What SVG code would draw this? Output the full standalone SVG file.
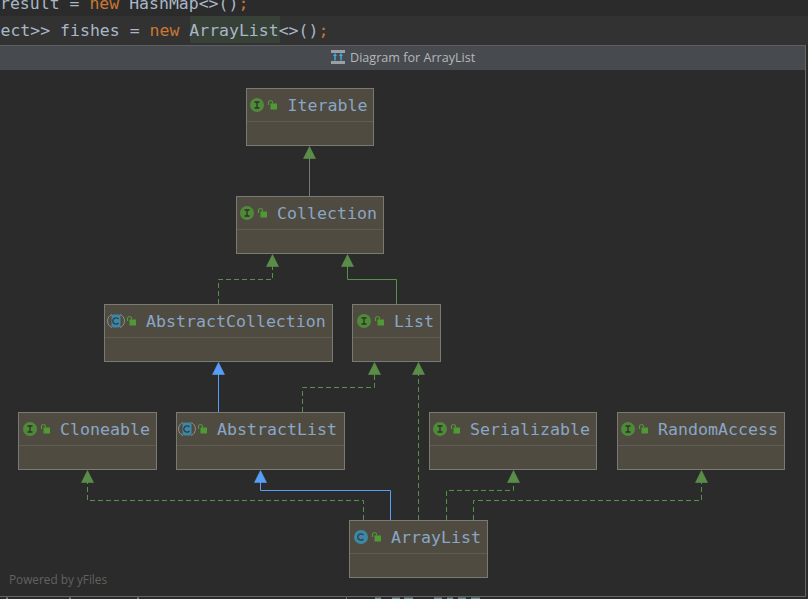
<svg xmlns="http://www.w3.org/2000/svg" width="808" height="599" viewBox="0 0 808 599">
<style>
.code{font:16.5px "DejaVu Sans Mono","Liberation Mono",monospace}
.name{font:16.6px "DejaVu Sans Mono","Liberation Mono",monospace;fill:#8aa6c6}
.box{fill:#4f4b41;stroke:#7a7a74;stroke-width:1}
.div{stroke:#5f5c53;stroke-width:1}
.lk{fill:#4f9a35}.lks{fill:none;stroke:#4f9a35;stroke-width:1.200}
.ib{fill:#4f8a3a}.cb{fill:#3e87a5}
.dash{fill:none;stroke:#55924a;stroke-width:1;stroke-dasharray:5 3}
.sol{fill:none;stroke:#55924a;stroke-width:1}
.blue{fill:none;stroke:#589df6;stroke-width:1}
.hg{fill:#5a8e48;stroke:#5a8e48;stroke-width:.6;stroke-linejoin:round}
.hb{fill:#589df6;stroke:#589df6;stroke-width:.6;stroke-linejoin:round}
.frag{fill:#6f8f98}
</style>
<defs>
<g id="lock"><rect class="lk" x="2.500" y="1.500" width="6.500" height="6"/><path class="lks" d="M0.500 3v-2.500a2 2 0 0 1 4 0v1"/></g>
<g id="ii"><circle class="ib" cx="0" cy="0" r="7"/><path d="M-2.500-3h5M-2.500 3h5M0-3v6" stroke="#2c3325" stroke-width="1.300" fill="none"/></g>
<g id="cc"><circle class="cb" cx="0" cy="0" r="7"/><path d="M2.500-2a3.200 3.200 0 1 0 0 4" stroke="#2c3c44" stroke-width="1.300" fill="none"/></g>
<g id="ac"><path d="M-4-6.500a7 7 0 0 0 0 13M4-6.500a7 7 0 0 1 0 13" fill="none" stroke="#8f8f88" stroke-width="1"/><rect class="cb" x="-4.500" y="-6.500" width="9" height="13" rx="2"/><path d="M2.500-2a3.200 3.200 0 1 0 0 4" stroke="#2c3c44" stroke-width="1.300" fill="none"/></g>
</defs>
<rect width="808" height="599" fill="#2b2b2b"/>
<rect x="0" y="16" width="808" height="29" fill="#323232"/>
<rect x="190" y="16" width="90" height="27" fill="#374137"/>
<text class="code" x="0" y="9" fill="#a9b7c6">result = <tspan fill="#cc7832">new</tspan> HashMap&lt;&gt;()<tspan fill="#cc7832">;</tspan></text>
<text class="code" x="0.500" y="36" fill="#a9b7c6">ect&gt;&gt; fishes = <tspan fill="#cc7832">new</tspan> ArrayList&lt;&gt;()<tspan fill="#cc7832">;</tspan></text>
<rect x="0" y="45" width="805" height="25" fill="#474a4e"/>
<rect x="0" y="45" width="805" height="1" fill="#5e6060"/>
<g><rect x="331" y="50" width="14" height="3" fill="#9aa0a4"/><rect x="331" y="61" width="14" height="3" fill="#9aa0a4"/><path d="M335 60.500v-6M341 60.500v-6" stroke="#3fa9d8" stroke-width="1.500"/><path d="M333 56l2-3 2 3zM339 56l2-3 2 3z" fill="#3fa9d8"/></g>
<text x="350" y="62" font-family="'Open Sans','Noto Sans',sans-serif" font-size="12.600" fill="#b4b8ba">Diagram for ArrayList</text>
<path d="M805.500 45V596.500H0" fill="none" stroke="#666"/>
<path class="frag" d="M6 597.500h2v1.500h-2zM69 597.500h2v1.500h-2zM137 597.500h2v1.500h-2zM346 597.500h1v1.500h-1zM375 597.500h6v1.500h-6zM392 597.500h8v1.500h-8zM404 597.500h9v1.500h-9zM434 597.500h8v1.500h-8zM447 597.500h6v1.500h-6zM458 597.500h8v1.500h-8zM471 597.500h9v1.500h-9z"/>
<text x="9" y="584" font-family="'Open Sans','Noto Sans',sans-serif" font-size="11.800" fill="#62625f">Powered by yFiles</text>

<g id="connectors">
<path class="sol" d="M309.500 196V158" style="stroke:#777a70"/><path class="hg" d="M309.500 146.500l6 12h-12z"/>
<path class="dash" d="M218.500 304V279.500H272.500V266"/><path class="hg" d="M272.500 254.500l6 12h-12z"/>
<path class="sol" d="M396.500 304V279.500H347.500V266"/><path class="hg" d="M347.500 254.500l6 12h-12z"/>
<path class="blue" d="M218.500 412V374"/><path class="hb" d="M218.500 362.500l6 12h-12z"/>
<path class="dash" d="M302.500 412V387.500H374.500V374"/><path class="hg" d="M374.500 362.500l6 12h-12z"/>
<path class="dash" d="M418.500 520V374"/><path class="hg" d="M418.500 362.500l6 12h-12z"/>
<path class="dash" d="M363.500 520V500.500H87.500V482"/><path class="hg" d="M87.500 470.500l6 12h-12z"/>
<path class="blue" d="M390.500 520V490.500H260.500V482"/><path class="hb" d="M260.500 470.500l6 12h-12z"/>
<path class="dash" d="M446.500 520V490.500H513.500V482"/><path class="hg" d="M513.500 470.500l6 12h-12z"/>
<path class="dash" d="M473.500 520V500.500H701.500V482"/><path class="hg" d="M701.500 470.500l6 12h-12z"/>
</g>

<g id="Iterable"><rect class="box" x="246.500" y="88.500" width="127" height="57"/><path class="div" d="M247 121.500H373"/><use href="#ii" x="257" y="105"/><use href="#lock" x="268" y="102"/><text class="name" x="287.500" y="111">Iterable</text></g>
<g id="Collection"><rect class="box" x="236.500" y="196.500" width="147" height="57"/><path class="div" d="M237 229.500H383"/><use href="#ii" x="247" y="213"/><use href="#lock" x="258" y="210"/><text class="name" x="277" y="219">Collection</text></g>
<g id="AbstractCollection"><rect class="box" x="104.500" y="304.500" width="228" height="57"/><path class="div" d="M105 337.500H332"/><use href="#ac" x="116" y="321"/><use href="#lock" x="127" y="318"/><text class="name" x="146" y="327">AbstractCollection</text></g>
<g id="List"><rect class="box" x="352.500" y="304.500" width="88" height="57"/><path class="div" d="M353 337.500H440"/><use href="#ii" x="364" y="321"/><use href="#lock" x="375" y="318"/><text class="name" x="394" y="327">List</text></g>
<g id="Cloneable"><rect class="box" x="18.500" y="412.500" width="138" height="57"/><path class="div" d="M19 445.500H156"/><use href="#ii" x="30" y="429"/><use href="#lock" x="41" y="426"/><text class="name" x="60" y="435">Cloneable</text></g>
<g id="AbstractList"><rect class="box" x="176.500" y="412.500" width="168" height="57"/><path class="div" d="M177 445.500H344"/><use href="#ac" x="187" y="429"/><use href="#lock" x="198" y="426"/><text class="name" x="217" y="435">AbstractList</text></g>
<g id="Serializable"><rect class="box" x="429.500" y="412.500" width="167" height="57"/><path class="div" d="M430 445.500H596"/><use href="#ii" x="440" y="429"/><use href="#lock" x="451" y="426"/><text class="name" x="470" y="435">Serializable</text></g>
<g id="RandomAccess"><rect class="box" x="617.500" y="412.500" width="167" height="57"/><path class="div" d="M618 445.500H784"/><use href="#ii" x="628" y="429"/><use href="#lock" x="639" y="426"/><text class="name" x="658" y="435">RandomAccess</text></g>
<g id="ArrayList"><rect class="box" x="349.500" y="520.500" width="138" height="57"/><path class="div" d="M350 553.500H487"/><use href="#cc" x="361" y="537"/><use href="#lock" x="372" y="534"/><text class="name" x="391" y="543">ArrayList</text></g>
</svg>
